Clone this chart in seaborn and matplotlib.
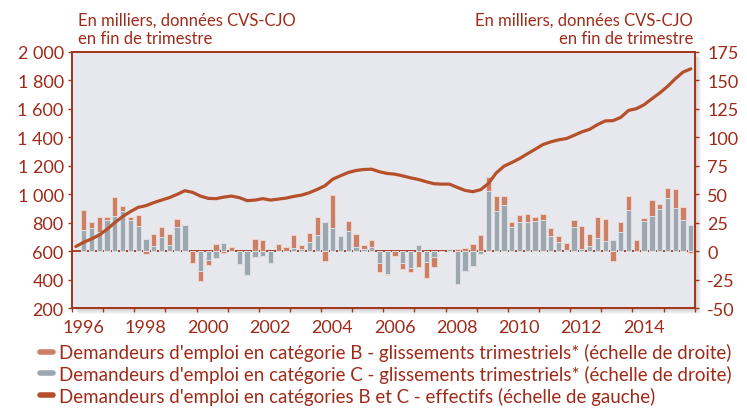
import matplotlib
matplotlib.use("Agg")
import matplotlib.pyplot as plt
from matplotlib.lines import Line2D
from matplotlib.patches import Rectangle
from matplotlib.ticker import FuncFormatter, FixedLocator
import seaborn as sns
import pandas as pd

# effectifs catégories B et C, en milliers (échelle de gauche), 1996T1 - 2015T4
effectifs = [633, 663, 686, 714, 754, 801, 843, 878, 908, 920,
             941, 959, 976, 999, 1025, 1013, 987, 971, 969, 980,
             987, 976, 955, 959, 969, 959, 966, 973, 985, 994,
             1011, 1034, 1060, 1106, 1130, 1153, 1167, 1174, 1176, 1158,
             1146, 1141, 1129, 1115, 1104, 1088, 1074, 1071, 1071, 1048,
             1027, 1018, 1032, 1076, 1150, 1197, 1223, 1251, 1284, 1316,
             1349, 1368, 1382, 1391, 1414, 1438, 1456, 1489, 1515, 1517,
             1540, 1589, 1601, 1629, 1671, 1711, 1757, 1811, 1858, 1881]

# glissements trimestriels (échelle de droite), 1996T2 - 2015T4
cat_b = [17, 5.8, 13.7, 2.3, 16, 4.4, 2.3, 9.4, -2.3, 10.2,
         8.8, 9.4, 6.7, 0, -10.2, -9.4, -4.4, 6.4, -1.8, 4.1,
         0, -0.8, 10.8, 9.4, 0.5, 6.4, 4.1, 11.7, 3.5, 7.9,
         15.8, -8.2, 29.5, 0, 9.4, 11.7, 3.8, 6.1, -8.2, -1,
         -3.8, -5, -3.8, -13.5, -13.7, -8.8, 0, 0, 1.8, 2.6,
         6.4, 14.3, 12.3, 13.2, 7.6, 3.8, 6.7, 7.3, 4.1, 5.3,
         7.3, 5.6, 6.3, 5.8, 20.2, 9.9, 18.1, 19.6, -8.8, 8.5,
         11.7, 8.8, 2.6, 14.3, 4.4, 8.5, 16.7, 12, -1.5]
cat_c = [19, 20.2, 16.7, 27.5, 31.3, 35.7, 27.5, 22.5, 10.8, 5,
         12.3, 5.8, 21.6, 23.4, 0, -17, -7.6, -5.8, 7, 0,
         -11.1, -20.5, -4.7, -3.8, -10, 0, 0, 2.9, 2, 7.9,
         14.6, 25.4, 20.2, 13.7, 17.5, 3.5, 2, 4.1, -10.2, -20,
         0.5, -10.5, -14.6, 5.8, -9.6, -4.7, 0.5, 1.8, -29, -17.5,
         -12.9, -2.9, 52.6, 35.7, 40.9, 21.6, 25.4, 25.4, 26.3, 27.5,
         13.2, 7.9, 1, 21.3, 2, 5, 12, 8.8, 10.2, 16.7,
         36.5, 0.6, 26.6, 31, 37.4, 46.8, 38, 27.2, 23.4]

year_labels = list(range(1996, 2016, 2))
left_ticks = list(range(200, 2001, 200))
right_ticks = list(range(-50, 176, 25))

labels = [
    "Demandeurs d'emploi en catégorie B - glissements trimestriels* (échelle de droite)",
    "Demandeurs d'emploi en catégorie C - glissements trimestriels* (échelle de droite)",
    "Demandeurs d'emploi en catégories B et C - effectifs (échelle de gauche)",
]

text_col = "#9E2B19"
spine_col = "#A3361F"
orange = "#C98066"
grey = "#9CA7B0"
line_col = "#B5502B"
bg = "#E6E8EE"

sns.set_theme(style="white")
plt.rcParams["font.family"] = ["Lato", "DejaVu Sans"]
plt.rcParams["axes.unicode_minus"] = False

quarters = pd.period_range("1996Q1", "2015Q4", freq="Q")
xq = quarters.year + (quarters.quarter - 0.5) / 4
line_df = pd.DataFrame({"x": xq, "effectifs": effectifs})

bars = pd.DataFrame({"x": xq[1:], "B": cat_b, "C": cat_c})
bars["pos_tot"] = bars["B"].clip(lower=0) + bars["C"].clip(lower=0)
bars["neg_tot"] = bars["B"].clip(upper=0) + bars["C"].clip(upper=0)
bars["c_pos"] = bars["C"].clip(lower=0)
bars["c_neg"] = bars["C"].clip(upper=0)

fig = plt.figure(figsize=(7.47, 4.10), dpi=100)
fig.subplots_adjust(left=0.0964, right=0.930, top=0.871, bottom=0.246)
ax = fig.add_subplot(111)
ax.set_facecolor(bg)

# drop shadow behind the plot area
pos = ax.get_position()
for i in range(1, 7):
    fig.patches.append(Rectangle((pos.x0 + i / 747, pos.y0 - i / 410), pos.width, pos.height,
                                 transform=fig.transFigure, color="black", alpha=0.035,
                                 zorder=-5, lw=0))

ax.axhline(0, color=spine_col, lw=1.3, zorder=1)
bar_kw = dict(x="x", native_scale=True, width=0.68, errorbar=None, saturation=1,
              linewidth=0.7, ax=ax, zorder=2)
sns.barplot(data=bars, y="pos_tot", color=orange, edgecolor="#EFD3C8", **bar_kw)
sns.barplot(data=bars, y="neg_tot", color=orange, edgecolor="#EFD3C8", **bar_kw)
sns.barplot(data=bars, y="c_pos", color=grey, edgecolor="#DCE0E4", **bar_kw)
sns.barplot(data=bars, y="c_neg", color=grey, edgecolor="#DCE0E4", **bar_kw)

ax2 = ax.twinx()
sns.lineplot(data=line_df, x="x", y="effectifs", color=line_col, linewidth=2.3, ax=ax2)

ax.set_ylim(-50, 175)
ax2.set_ylim(200, 2000)
for a in (ax, ax2):
    a.set_xlim(1996, 2016)
    a.set_xlabel("")
    a.set_ylabel("")
    for s in a.spines.values():
        s.set_color(spine_col)
        s.set_linewidth(1.3)

# bars on the right scale, line on the left scale
ax.yaxis.tick_right()
ax2.yaxis.tick_left()
ax.yaxis.set_major_locator(FixedLocator(right_ticks))
ax2.yaxis.set_major_locator(FixedLocator(left_ticks))
ax2.yaxis.set_major_formatter(FuncFormatter(lambda v, p: f"{int(v):,}".replace(",", " ")))

ax.xaxis.set_major_locator(FixedLocator(range(1996, 2017)))
ax.xaxis.set_minor_locator(FixedLocator([y + 0.36 for y in year_labels]))
ax.xaxis.set_major_formatter(FuncFormatter(lambda v, p: ""))
ax.xaxis.set_minor_formatter(FuncFormatter(lambda v, p: f"{int(round(v - 0.36))}"))
ax.tick_params(axis="x", which="major", bottom=True, length=3, width=1, color=spine_col)
ax.tick_params(axis="x", which="minor", bottom=True, length=0, pad=8,
               labelsize=13, labelcolor=text_col)
ax.tick_params(axis="y", right=True, length=3, width=1, color=spine_col,
               labelsize=13, labelcolor=text_col, pad=6)
ax2.tick_params(axis="y", left=True, length=3, width=1, color=spine_col,
                labelsize=13, labelcolor=text_col, pad=3)
ax2.tick_params(axis="x", bottom=False, labelbottom=False)

unit = "En milliers, données CVS-CJO\nen fin de trimestre"
fig.text(78 / 747, 1 - 13 / 410, unit, ha="left", va="top", color=text_col,
         fontsize=12, linespacing=1.15)
fig.text(693 / 747, 1 - 13 / 410, unit, ha="right", va="top", color=text_col,
         fontsize=12, linespacing=1.15, multialignment="right")

handles = [Line2D([], [], color=orange, lw=4),
           Line2D([], [], color=grey, lw=4),
           Line2D([], [], color=line_col, lw=4)]
fig.legend(handles, labels, loc="upper left", bbox_to_anchor=(40 / 747, 1 - 344 / 410),
           frameon=False, handlelength=0.7, handletextpad=0.3, labelspacing=0.2,
           fontsize=13.5, labelcolor=text_col, borderaxespad=0, borderpad=0)

fig.savefig("out.png", dpi=100)
